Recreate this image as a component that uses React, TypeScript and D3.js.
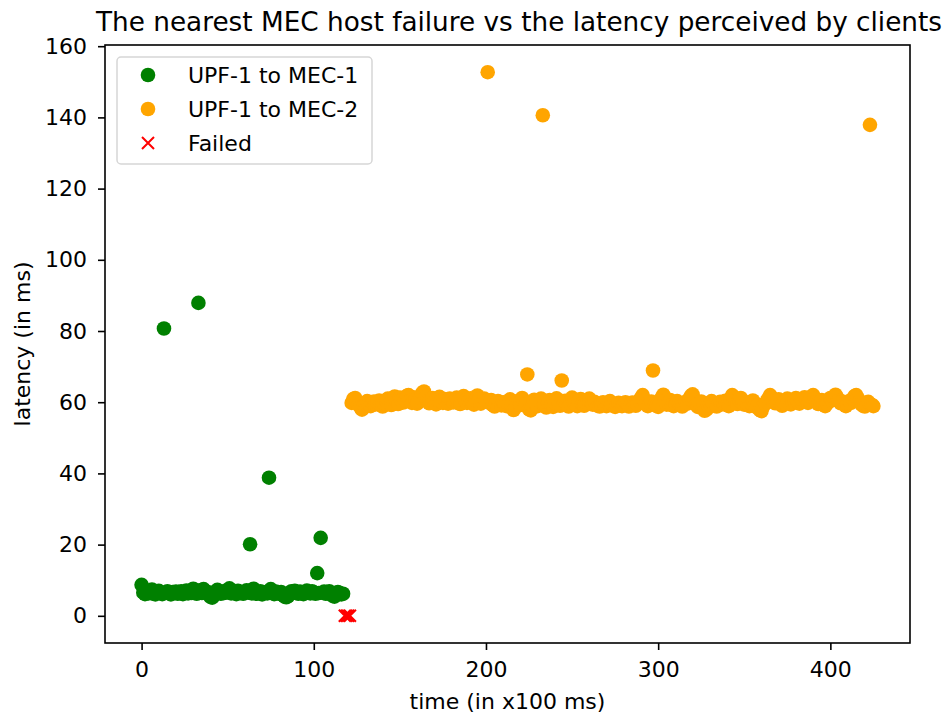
import React, { useRef, useEffect } from 'react';
import * as d3 from 'd3';

// one latency sample every 100 ms, the time is the sample index
const mec1Start = 0;
const mec1Latency = [
  8.7, 6.5, 6.1, 7.0, 6.3, 6.8, 7.4, 6.2, 6.0, 6.6,
  7.0, 6.4, 6.1, 80.7, 6.5, 6.9, 6.3, 6.0, 6.7, 6.4,
  6.8, 6.2, 6.5, 6.9, 6.1, 6.6, 7.1, 6.3, 6.7, 6.4,
  7.6, 6.5, 6.2, 87.9, 7.2, 6.4, 7.5, 6.9, 6.3, 6.6,
  5.3, 5.1, 6.0, 6.7, 7.3, 6.5, 6.2, 6.8, 6.4, 7.0,
  6.6, 7.7, 6.3, 6.9, 6.5, 6.1, 7.0, 6.4, 6.7, 6.2,
  6.6, 7.2, 6.5, 20.1, 6.3, 7.6, 6.8, 6.2, 6.5, 6.9,
  6.0, 6.4, 6.7, 6.3, 38.8, 7.5, 6.4, 6.1, 6.8, 6.5,
  6.2, 6.7, 5.8, 5.4, 5.2, 5.5, 6.3, 6.9, 6.4, 7.0,
  6.6, 6.2, 6.8, 6.4, 6.1, 6.7, 7.1, 6.5, 6.3, 6.9,
  6.6, 6.2, 12.0, 6.4, 21.9, 6.5, 6.8, 6.2, 6.6, 6.9,
  6.3, 5.6, 5.4, 6.1, 6.7, 6.4, 6.0, 6.2
];

const mec2Start = 122;
const mec2Latency = [
  59.8, 60.9, 61.2, 60.1, 59.3, 58.6, 57.9, 59.2, 59.7, 60.3,
  59.5, 58.9, 59.8, 60.2, 59.4, 59.9, 60.5, 59.1, 58.8, 59.6,
  60.4, 61.0, 59.7, 59.2, 60.8, 61.6, 60.3, 59.5, 61.3, 60.7,
  59.9, 60.6, 61.8, 62.0, 60.4, 59.8, 61.4, 60.9, 59.6, 60.2,
  61.1, 62.6, 63.0, 61.5, 60.3, 59.7, 60.8, 61.2, 60.1, 59.4,
  60.6, 61.5, 60.2, 59.8, 60.9, 60.3, 59.6, 61.0, 60.5, 59.9,
  60.7, 61.3, 60.2, 59.5, 60.8, 61.7, 60.4, 59.8, 60.6, 61.1,
  60.0, 59.3, 60.5, 61.9, 60.7, 59.6, 60.2, 61.0, 60.4, 152.7,
  59.8, 60.6, 59.2, 58.8, 59.5, 60.3, 59.7, 59.1, 60.0, 59.4,
  58.9, 59.6, 60.8, 59.3, 57.8, 58.6, 59.9, 60.4, 59.2, 61.2,
  60.1, 59.4, 67.8, 58.0, 57.7, 59.0, 60.7, 59.5, 58.9, 60.3,
  61.0, 140.6, 59.3, 58.5, 59.8, 60.6, 59.2, 58.7, 59.9, 61.1,
  60.2, 59.0, 66.1, 59.6, 60.4, 59.1, 58.8, 59.7, 61.3, 60.0,
  59.4, 58.9, 60.2, 60.9, 59.5, 59.0, 59.8, 60.6, 61.0, 59.7,
  59.3, 60.1, 59.6, 59.0, 58.8, 59.5, 60.0, 59.2, 58.9, 59.6,
  60.3, 59.4, 59.0, 58.7, 59.3, 59.8, 59.1, 58.9, 59.5, 60.0,
  59.2, 58.8, 59.4, 59.9, 59.3, 59.0, 59.6, 60.4, 61.2, 62.0,
  60.5, 59.4, 58.9, 59.7, 60.2, 68.9, 59.5, 59.0, 58.7, 59.6,
  61.3, 62.1, 60.4, 59.3, 59.8, 60.6, 59.2, 58.9, 59.5, 60.3,
  59.7, 59.1, 58.8, 59.4, 60.1, 59.6, 60.9, 61.8, 62.2, 60.5,
  59.4, 58.7, 59.8, 60.2, 58.5, 57.6, 57.9, 59.1, 59.7, 60.3,
  59.5, 59.0, 58.8, 59.6, 60.1, 59.4, 59.8, 60.4, 59.2, 58.9,
  61.0, 62.0, 61.4, 60.2, 59.5, 60.7, 61.2, 59.8, 59.3, 60.0,
  59.4, 58.9, 59.7, 60.5, 59.1, 58.6, 59.3, 57.8, 57.5, 58.8,
  59.6, 60.2, 61.1, 62.0, 61.3, 60.4, 59.7, 60.1, 60.8, 59.5,
  59.0, 59.8, 60.5, 61.0, 60.2, 59.4, 59.9, 60.6, 61.2, 60.3,
  59.6, 60.1, 60.7, 61.4, 60.5, 59.8, 60.3, 61.6, 62.0, 61.1,
  60.2, 59.5, 60.0, 60.6, 59.3, 58.9, 59.6, 60.4, 61.2, 60.5,
  61.5, 62.1, 61.3, 60.4, 59.7, 60.2, 59.4, 58.9, 59.6, 60.3,
  59.8, 60.9, 61.7, 62.0, 61.1, 60.2, 59.5, 59.0, 58.8, 59.4,
  60.1, 137.9, 59.3, 58.9
];

const failedTimes = [118, 119, 120, 121];
const failedLatency = [0, 0, 0, 0];

const xTicks = [0, 100, 200, 300, 400];
const yTicks = [0, 20, 40, 60, 80, 100, 120, 140, 160];
const seriesNames = ['UPF-1 to MEC-1', 'UPF-1 to MEC-2', 'Failed'];
const seriesColors = ['green', 'orange', 'red'];

const font = '"DejaVu Sans", sans-serif';

const App = () => {
  const svgRef = useRef(null);

  useEffect(() => {
    const svg = d3.select(svgRef.current);
    const width = 946;
    const height = 715;
    const left = 105, right = 910, top = 45, bottom = 643;

    svg.selectAll('*').remove();
    svg.attr('width', width).attr('height', height);

    const mec1 = mec1Latency.map((v, i) => [mec1Start + i, v]);
    const mec2 = mec2Latency.map((v, i) => [mec2Start + i, v]);
    const failed = failedTimes.map((t, i) => [t, failedLatency[i]]);
    const all = [...mec1, ...mec2, ...failed];

    // matplotlib style 5% margins
    const [xMin, xMax] = d3.extent(all, d => d[0]);
    const [yMin, yMax] = d3.extent(all, d => d[1]);
    const xPad = (xMax - xMin) * 0.05;
    const yPad = (yMax - yMin) * 0.05;

    const x = d3.scaleLinear().domain([xMin - xPad, xMax + xPad]).range([left, right]);
    const y = d3.scaleLinear().domain([yMin - yPad, yMax + yPad]).range([bottom, top]);

    // points
    const plot = svg.append('g');
    plot.append('g').selectAll('circle')
      .data(mec1)
      .enter()
      .append('circle')
      .attr('cx', d => x(d[0]))
      .attr('cy', d => y(d[1]))
      .attr('r', 7.3)
      .attr('fill', seriesColors[0]);

    plot.append('g').selectAll('circle')
      .data(mec2)
      .enter()
      .append('circle')
      .attr('cx', d => x(d[0]))
      .attr('cy', d => y(d[1]))
      .attr('r', 7.3)
      .attr('fill', seriesColors[1]);

    const cross = (g, cx, cy, s) => {
      g.append('path')
        .attr('d', `M${cx - s},${cy - s}L${cx + s},${cy + s}M${cx - s},${cy + s}L${cx + s},${cy - s}`)
        .attr('stroke', seriesColors[2])
        .attr('stroke-width', 2)
        .attr('fill', 'none');
    };
    const failedG = plot.append('g');
    failed.forEach(d => cross(failedG, x(d[0]), y(d[1]), 6));

    // axes
    const xAxis = svg.append('g')
      .attr('transform', `translate(0,${bottom})`)
      .call(d3.axisBottom(x).tickValues(xTicks).tickSize(7).tickPadding(11));
    const yAxis = svg.append('g')
      .attr('transform', `translate(${left},0)`)
      .call(d3.axisLeft(y).tickValues(yTicks).tickSize(7).tickPadding(11));

    [xAxis, yAxis].forEach(a => {
      a.select('.domain').remove();
      a.attr('font-family', font).attr('font-size', 22);
      a.selectAll('line').attr('stroke', '#000').attr('stroke-width', 1.6);
      a.selectAll('text').attr('fill', '#000');
    });

    svg.append('rect')
      .attr('x', left)
      .attr('y', top)
      .attr('width', right - left)
      .attr('height', bottom - top)
      .attr('fill', 'none')
      .attr('stroke', '#000')
      .attr('stroke-width', 1.6);

    // labels
    svg.append('text')
      .attr('x', 519)
      .attr('y', 31)
      .attr('text-anchor', 'middle')
      .attr('font-family', font)
      .attr('font-size', 26.3)
      .text('The nearest MEC host failure vs the latency perceived by clients');

    svg.append('text')
      .attr('x', (left + right) / 2)
      .attr('y', 709)
      .attr('text-anchor', 'middle')
      .attr('font-family', font)
      .attr('font-size', 22)
      .text('time (in x100 ms)');

    svg.append('text')
      .attr('transform', `translate(30,${(top + bottom) / 2}) rotate(-90)`)
      .attr('text-anchor', 'middle')
      .attr('font-family', font)
      .attr('font-size', 22)
      .text('latency (in ms)');

    // legend
    const legend = svg.append('g');
    legend.append('rect')
      .attr('x', 117)
      .attr('y', 57)
      .attr('width', 255)
      .attr('height', 107)
      .attr('rx', 4)
      .attr('fill', 'white')
      .attr('fill-opacity', 0.8)
      .attr('stroke', '#d6d6d6')
      .attr('stroke-width', 1.5);

    seriesNames.forEach((name, i) => {
      const ly = 75 + i * 34;
      if (i < 2) {
        legend.append('circle')
          .attr('cx', 148)
          .attr('cy', ly)
          .attr('r', 7.3)
          .attr('fill', seriesColors[i]);
      } else {
        cross(legend, 148, ly, 6);
      }
      legend.append('text')
        .attr('x', 188)
        .attr('y', ly)
        .attr('dy', '0.36em')
        .attr('font-family', font)
        .attr('font-size', 22)
        .attr('fill', '#000')
        .text(name);
    });
  }, []);

  return (
    <svg ref={svgRef} style={{ position: 'absolute', left: 0, top: 0 }}></svg>
  );
};

export default App;
